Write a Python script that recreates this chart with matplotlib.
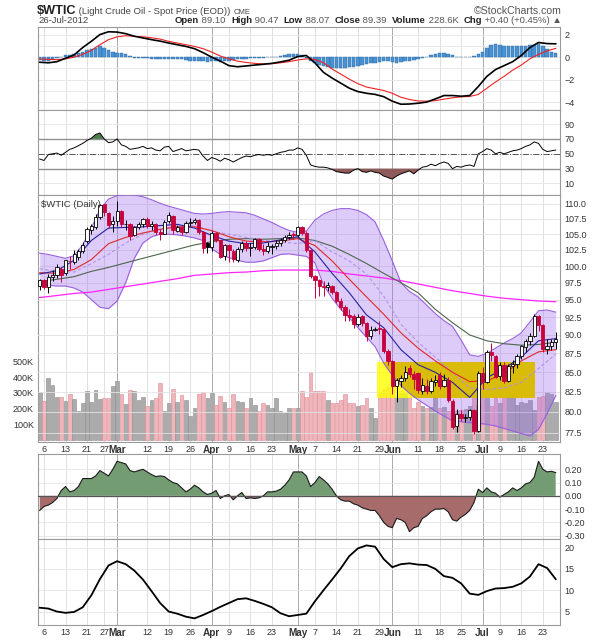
import numpy as np
import pandas as pd
import matplotlib
matplotlib.use("Agg")
import matplotlib.pyplot as plt
from matplotlib.patches import Rectangle
from matplotlib.ticker import NullLocator, FixedLocator

plt.rcParams['font.family'] = ['Liberation Sans', 'DejaVu Sans']

W_PX, H_PX = 599, 640

# trading days on the chart (NYMEX holidays left out)
dates = pd.bdate_range("2012-02-03", "2012-07-26", freq="C",
                       holidays=["2012-02-20", "2012-04-06", "2012-05-28", "2012-07-04"])

# daily candles, Feb .. Jul
opens = [97.0, 97.9, 96.9, 98.4, 98.7, 99.6, 98.9, 100.8, 100.7, 101.4, 102.4, 103.9, 105.7, 106.2, 107.8, 109.9, 108.5, 106.6,
         107.1, 108.8, 106.6, 106.7, 104.8, 106.1, 106.6, 107.4, 106.3, 106.7, 105.4, 105.1, 107.1, 108.0, 105.6, 106.2, 105.4, 106.9, 107.0, 107.3, 105.4, 103.6,
         102.9, 105.2, 104.0, 101.5, 103.3, 102.4, 101.0, 102.7, 103.6, 102.8, 102.9, 104.2, 102.7, 102.3, 103.0, 103.1, 103.6, 104.1, 104.6, 105.0,
         104.9, 106.1, 105.2, 102.5, 98.5, 97.9, 97.0, 96.8, 97.0, 96.1, 94.8, 94.0, 92.8, 92.6, 91.5, 92.6, 91.7, 89.9, 90.7, 91.0, 90.8, 87.8,
         86.5, 83.2, 83.9, 84.3, 85.5, 84.8, 84.9, 82.6, 83.3, 82.6, 83.8, 84.6, 83.3, 84.0, 81.4, 78.3, 79.8, 79.2, 79.4, 80.2, 77.7,
         84.9, 83.8, 87.7, 87.2, 84.5, 86.0, 83.9, 85.8, 86.1, 87.1, 88.4, 89.2, 89.9, 92.6, 91.4, 88.1, 88.5, 89.10]
highs = [98.0, 98.0, 98.8, 99.4, 100.3, 99.8, 101.0, 101.5, 102.5, 102.6, 103.8, 106.2, 106.7, 108.3, 109.95, 110.0, 108.7, 108.0,
         110.55, 109.0, 107.3, 106.9, 106.4, 107.0, 107.7, 107.8, 107.2, 106.9, 105.9, 107.3, 108.6, 108.1, 106.5, 106.4, 107.1, 107.7, 107.7, 107.5, 105.5, 103.8,
         105.5, 105.3, 104.1, 103.5, 103.4, 102.6, 102.9, 103.9, 103.9, 103.6, 104.4, 104.4, 103.4, 103.7, 103.5, 104.0, 104.4, 104.9, 105.3, 105.3,
         106.4, 106.3, 105.5, 102.6, 98.6, 98.0, 97.8, 97.6, 97.2, 96.3, 95.2, 94.2, 93.6, 93.0, 92.9, 92.8, 91.8, 91.2, 91.1, 91.9, 91.0, 88.1,
         86.6, 84.3, 84.7, 85.8, 86.0, 85.2, 85.0, 84.2, 84.1, 84.2, 84.6, 85.0, 84.8, 84.4, 81.6, 80.4, 80.2, 79.7, 80.4, 80.4, 85.2,
         85.7, 87.9, 88.9, 87.3, 86.3, 86.4, 86.1, 86.6, 87.4, 88.6, 89.5, 90.3, 92.9, 92.8, 91.5, 89.4, 89.4, 90.47]
lows = [96.4, 96.5, 96.0, 97.7, 98.2, 97.6, 98.6, 99.6, 100.4, 100.9, 102.0, 103.6, 105.0, 105.9, 107.5, 107.9, 106.0, 105.3,
        106.3, 106.2, 105.7, 104.0, 104.7, 105.8, 106.2, 106.0, 105.7, 104.9, 104.0, 105.0, 106.8, 105.1, 105.3, 104.8, 105.2, 106.4, 106.6, 105.1, 102.0, 102.1,
        102.4, 103.7, 101.2, 101.0, 100.7, 100.6, 100.7, 102.2, 102.4, 101.5, 102.6, 102.3, 101.7, 102.0, 101.9, 102.6, 103.2, 103.7, 104.2, 104.3,
        104.5, 104.9, 102.2, 98.2, 95.3, 95.6, 95.5, 96.3, 95.8, 94.5, 93.5, 92.0, 92.0, 91.0, 91.3, 91.3, 89.2, 89.5, 90.5, 90.2, 87.5, 85.9,
        82.2, 81.2, 83.1, 83.9, 84.4, 82.8, 82.3, 82.2, 82.2, 82.3, 83.2, 82.8, 83.1, 81.2, 77.9, 77.6, 78.9, 78.8, 79.0, 77.3, 77.6,
        82.9, 83.6, 86.5, 84.2, 84.0, 83.6, 83.7, 84.9, 85.6, 86.8, 87.7, 88.6, 89.7, 90.6, 87.7, 87.4, 87.9, 88.07]
closes = [97.84, 96.91, 98.41, 98.70, 99.84, 98.67, 100.91, 100.74, 101.80, 102.31, 103.24, 105.84, 106.28, 107.83, 109.77, 108.56, 106.55, 107.07,
          108.84, 106.70, 106.72, 104.70, 106.16, 106.58, 107.40, 106.34, 106.71, 105.43, 105.11, 107.06, 108.09, 105.61, 106.17, 105.35, 106.87, 107.03, 107.33, 105.41, 102.78, 103.02,
          105.23, 104.01, 101.47, 103.31, 102.46, 101.02, 102.70, 103.64, 102.83, 102.93, 104.20, 102.67, 102.27, 103.05, 103.11, 103.55, 104.12, 104.55, 104.93, 104.87,
          106.16, 105.22, 102.54, 98.49, 97.94, 97.01, 96.81, 97.08, 96.13, 94.78, 93.98, 92.81, 92.56, 91.48, 92.57, 91.66, 89.90, 90.66, 90.86, 90.76, 87.82, 86.53,
          83.23, 83.98, 84.29, 85.02, 84.82, 84.10, 82.70, 83.32, 82.62, 83.91, 84.03, 83.27, 84.03, 81.45, 78.20, 79.76, 79.21, 79.36, 80.21, 77.69, 84.96,
          83.75, 87.66, 87.22, 84.45, 85.99, 83.91, 85.81, 86.08, 87.10, 88.43, 89.22, 89.87, 92.66, 91.44, 88.14, 88.50, 88.97, 89.39]
volume_k = [304, 249, 394, 347, 272, 272, 249, 291, 261, 185, 234, 312, 238, 319, 259, 266, 266, 340,
            376, 291, 227, 319, 312, 255, 272, 217, 255, 266, 362, 185, 234, 323, 244, 287, 251, 153, 202, 293, 304, 268,
            300, 225, 280, 240, 200, 290, 250, 240, 205, 265, 225, 185, 235, 225, 205, 265, 185, 170, 202, 204,
            204, 308, 276, 429, 308, 308, 308, 255, 234, 234, 255, 293, 234, 234, 217, 223, 266, 204, 142, 302, 323, 336,
            336, 280, 308, 297, 272, 204, 244, 217, 204, 212, 272, 204, 212, 182, 217, 182, 191, 195, 217, 272, 223,
            308, 266, 217, 266, 234, 272, 287, 280, 223, 244, 234, 255, 191, 272, 280, 302, 293, 238]

# Bollinger bands read every 2nd session
bb_upper = [102.0, 101.8, 101.5, 101.2, 101.6, 103.3, 106.0, 109.0, 110.8, 111.4, 111.6, 111.5, 111.2, 110.7, 110.1, 109.6,
            109.2, 108.8, 108.4, 108.3, 108.4, 108.6, 108.7, 108.6, 108.5, 108.1, 107.5, 106.9, 106.2, 105.6, 105.3, 105.5,
            107.3, 108.3, 108.9, 109.2, 109.2, 108.9, 108.2, 107.0, 104.0, 100.8, 97.5, 96.2, 95.4, 94.2, 93.0, 92.0,
            91.2, 89.3, 87.3, 87.1, 87.5, 88.2, 88.9, 89.5, 90.3, 91.8, 93.4, 93.5, 93.2]
bb_lower = [97.2, 97.1, 97.0, 97.0, 96.7, 96.1, 95.0, 93.9, 93.7, 94.8, 97.5, 101.2, 103.6, 104.6, 105.0, 105.0,
            104.9, 104.7, 104.4, 104.0, 102.7, 101.8, 101.3, 100.9, 100.6, 100.6, 100.8, 101.3, 101.8, 101.9, 101.7, 101.5,
            100.5, 97.2, 95.2, 93.6, 92.4, 91.0, 89.7, 88.4, 86.2, 84.6, 83.3, 82.3, 81.5, 80.8, 80.1, 79.5,
            78.9, 78.8, 78.7, 78.6, 78.5, 78.3, 78.0, 77.7, 77.4, 77.1, 77.9, 79.8, 82.0]
# moving averages read every 4th session
bb_mid = [99.6, 99.2, 99.1, 100.4, 101.8, 103.6, 105.0, 105.8, 106.3, 106.4, 105.5, 105.0, 104.5, 104.0, 103.8, 103.5,
          104.0, 102.2, 100.8, 98.8, 95.5, 91.5, 89.0, 87.0, 85.0, 83.0, 82.8, 83.0, 83.7, 85.5, 87.4]
ma_fast = [98.8, 99.3, 100.9, 104.0, 106.0, 106.1, 106.2, 106.4, 106.6, 106.0, 104.8, 103.9, 103.5, 103.6, 104.1, 104.6,
           102.2, 98.9, 96.0, 92.8, 91.0, 88.0, 86.0, 85.0, 83.7, 81.8, 84.3, 85.5, 87.0, 89.2, 89.5]
ma_mid = [99.0, 98.9, 99.5, 101.0, 103.5, 104.5, 105.2, 105.8, 106.2, 106.2, 105.6, 104.6, 103.9, 103.8, 103.9, 104.3,
          103.2, 100.8, 98.0, 95.4, 92.9, 90.3, 88.2, 86.5, 85.0, 83.8, 83.9, 84.8, 86.5, 87.7, 88.0]
ma_50 = [97.7, 98.0, 98.4, 99.2, 99.8, 100.5, 101.2, 101.9, 102.6, 103.3, 103.8, 104.2, 104.3, 104.2, 104.3, 104.4,
         104.0, 103.1, 101.8, 100.4, 98.9, 97.5, 96.0, 93.6, 91.7, 90.0, 89.2, 88.8, 88.6, 88.7, 89.0]
ma_200 = [95.3, 95.6, 95.9, 96.1, 96.5, 96.9, 97.3, 97.7, 98.1, 98.6, 98.8, 99.0, 99.1, 99.3, 99.4, 99.4,
          99.4, 99.2, 98.8, 98.5, 98.2, 97.8, 97.3, 96.8, 96.3, 95.9, 95.5, 95.2, 95.0, 94.8, 94.7]

# MACD lines read every 2nd session, histogram daily
macd = [-0.45, -0.5, -0.4, -0.1, 0.2, 0.85, 1.4, 2.0, 2.25, 2.22, 2.08, 1.85, 1.7, 1.55, 1.42, 1.25, 1.1, 0.95, 0.75, 0.4,
        0.0, -0.35, -0.75, -0.85, -0.78, -0.7, -0.63, -0.55, -0.42, -0.27, 0.05, 0.15, -0.5, -1.35, -1.85, -2.3, -2.75, -3.05, -3.2, -3.3,
        -3.5, -3.9, -4.17, -4.15, -4.08, -3.98, -3.7, -3.4, -3.4, -3.46, -3.4, -2.6, -1.7, -1.1, -0.75, -0.4, 0.15, 0.85, 1.3, 1.2, 1.18]
macd_signal = [-0.15, -0.2, -0.22, -0.15, 0.0, 0.25, 0.6, 1.1, 1.55, 1.8, 1.9, 1.85, 1.8, 1.72, 1.6, 1.4, 1.25, 1.1, 0.95, 0.75,
               0.45, 0.1, -0.15, -0.35, -0.47, -0.55, -0.6, -0.58, -0.5, -0.4, -0.25, -0.15, -0.2, -0.5, -1.05, -1.5, -1.95, -2.35, -2.65, -2.8,
               -2.95, -3.2, -3.55, -3.75, -3.88, -3.9, -3.85, -3.72, -3.6, -3.52, -3.48, -3.3, -2.75, -2.2, -1.7, -1.15, -0.7, -0.15, 0.25, 0.55, 0.78]
macd_hist = [-0.25, -0.3, -0.3, -0.2, -0.1, 0.05, 0.15, 0.2, 0.25, 0.35,
             0.45, 0.6, 0.75, 0.85, 0.95, 0.85, 0.65, 0.5, 0.4, 0.35,
             0.25, 0.1, -0.05, -0.1, -0.1, -0.1, -0.15, -0.15, -0.2, -0.15,
             -0.2, -0.2, -0.15, -0.2, -0.25, -0.3, -0.3, -0.35, -0.35, -0.4,
             -0.35, -0.35, -0.4, -0.35, -0.3, -0.25, -0.2, -0.15, -0.15, -0.1,
             -0.1, -0.05, -0.05, 0.0, 0.05, 0.05, 0.1, 0.2, 0.25, 0.3,
             0.3, 0.2, -0.1, -0.35, -0.55, -0.7, -0.8, -0.85, -0.95, -1.0,
             -1.0, -0.95, -0.9, -0.85, -0.8, -0.7, -0.65, -0.55, -0.5, -0.4,
             -0.3, -0.3, -0.45, -0.5, -0.45, -0.35, -0.3, -0.25, -0.15, -0.05,
             0.05, 0.15, 0.3, 0.35, 0.35, 0.3, 0.2, 0.05, 0.0, 0.0,
             0.05, 0.1, 0.25, 0.5, 0.8, 1.05, 1.15, 1.1, 1.0, 1.0,
             0.95, 0.95, 1.0, 1.0, 1.05, 1.1, 1.15, 1.0, 0.7, 0.5, 0.35]

rsi = [43, 41, 49, 50, 51, 48, 52, 56, 58, 61, 64, 68, 71, 76, 78, 70, 65, 66,
       70, 62, 60, 56, 57, 58, 60, 57, 58, 55, 54, 59, 60, 53, 55, 57, 54, 55, 56, 55, 47, 41,
       45, 43, 40, 44, 42, 39, 42, 45, 47, 46, 48, 49, 48, 49, 48, 50, 52, 53, 55, 55,
       58, 56, 48, 35, 33, 32, 32, 31, 29, 26, 25, 24, 24, 28, 30, 26, 25, 27, 25, 24, 20, 18,
       16, 20, 23, 25, 27, 23, 28, 32, 33, 36, 34, 37, 39, 37, 30, 33, 32, 34, 35, 33, 50,
       53, 57, 55, 50, 52, 50, 52, 54, 55, 57, 60, 62, 66, 64, 56, 53, 54, 55]

cmf = [-0.11, -0.08, -0.07, -0.05, -0.02, 0.04, 0.07, 0.03, 0.04, 0.07, 0.13, 0.13, 0.13, 0.15, 0.19, 0.17, 0.15, 0.2,
       0.26, 0.25, 0.24, 0.19, 0.18, 0.19, 0.2, 0.18, 0.16, 0.145, 0.15, 0.145, 0.12, 0.1, 0.09, 0.06, 0.03, 0.05, 0.08, 0.06, 0.03, 0.01,
       0.02, 0.04, -0.02, 0.0, 0.01, -0.03, 0.0, 0.025, -0.02, -0.015, -0.02, -0.015, 0.0, 0.03, 0.03, 0.035, 0.05, 0.08, 0.12, 0.18,
       0.18, 0.18, 0.15, 0.07, 0.1, 0.145, 0.12, 0.09, 0.05, 0.0, -0.03, -0.04, -0.04, -0.06, -0.07, -0.09, -0.1, -0.11, -0.11, -0.15, -0.2, -0.23,
       -0.24, -0.17, -0.18, -0.2, -0.27, -0.24, -0.23, -0.17, -0.15, -0.12, -0.1, -0.1, -0.095, -0.12, -0.18, -0.19, -0.16, -0.14, -0.11, -0.05, 0.05,
       0.025, 0.06, 0.03, 0.02, -0.01, 0.01, 0.03, 0.06, 0.04, 0.06, 0.09, 0.1, 0.14, 0.26, 0.2, 0.18, 0.185, 0.175]

# bottom line indicator, every 2nd session
adx = [5.9, 5.7, 5.0, 4.7, 4.9, 6.0, 8.8, 12.6, 15.8, 16.8, 16.1, 14.6, 12.5, 9.8, 7.0, 5.0, 4.5, 3.8, 3.4, 4.2,
       5.1, 6.1, 7.0, 7.9, 8.1, 7.5, 6.8, 6.0, 4.6, 3.9, 4.2, 4.5, 7.4, 10.0, 12.5, 15.1, 18.0, 19.8, 20.5, 20.2,
       17.3, 15.4, 16.1, 16.3, 16.0, 15.9, 15.0, 13.3, 12.9, 11.6, 9.2, 8.9, 9.8, 10.4, 10.5, 10.8, 11.6, 13.2, 16.1, 15.2, 12.6]

tick_dates = ["2012-02-06", "2012-02-13", "2012-02-21", "2012-02-27", "2012-03-01", "2012-03-12", "2012-03-19",
              "2012-03-26", "2012-04-02", "2012-04-09", "2012-04-16", "2012-04-23", "2012-05-01", "2012-05-07",
              "2012-05-14", "2012-05-21", "2012-05-29", "2012-06-01", "2012-06-11", "2012-06-18", "2012-06-25",
              "2012-07-02", "2012-07-09", "2012-07-16", "2012-07-23"]
tick_labels = ["6", "13", "21", "27", "Mar", "12", "19", "26", "Apr", "9", "16", "23", "May", "7",
               "14", "21", "29", "Jun", "11", "18", "25", "Jul", "9", "16", "23"]
months = ["Mar", "Apr", "May", "Jun", "Jul"]

# yellow highlight box (session position, price)
box_x = (78.4, 115.2)
box_y = (81.75, 86.4)

x = np.arange(len(dates))
x2 = x[::2]
x4 = x[::4]
o = np.array(opens); h = np.array(highs); l = np.array(lows); c = np.array(closes)
tick_pos = [dates.get_loc(pd.Timestamp(d)) for d in tick_dates]

fig = plt.figure(figsize=(W_PX / 100, H_PX / 100), dpi=100)
fig.patch.set_facecolor("white")
L, W = 38 / W_PX, 522 / W_PX


def panel(top, bottom):
    return fig.add_axes([L, 1 - bottom / H_PX, W, (bottom - top) / H_PX])


def style(ax):
    for s in ax.spines.values():
        s.set_color("#9a9a9a")
        s.set_linewidth(0.8)
    ax.set_xlim(-0.4, 121.0)
    ax.tick_params(length=0, labelsize=6.5, colors="#333333", pad=3)
    for p, lab in zip(tick_pos, tick_labels):
        col = "#aaaaaa" if lab in months else "#e0e0e0"
        ax.axvline(p, color=col, lw=0.7, zorder=0)


def xlabels(ax):
    ax.set_xticks(tick_pos)
    ax.set_xticklabels(tick_labels)
    ax.tick_params(axis="x", pad=2)
    for t in ax.get_xticklabels():
        if t.get_text() in months:
            t.set_fontweight("bold")
            t.set_fontsize(7.2)


# ---- MACD ----
ax1 = panel(27, 110)
style(ax1)
ax1.set_ylim(-4.68, 2.67)
for v in range(-4, 3):
    ax1.axhline(v, color="#e4e4e4", lw=0.6, zorder=0)
ax1.bar(x, macd_hist, width=0.8, color="#4a93d2", edgecolor="#2b67a3", lw=0.3, zorder=2)
ax1.plot(x2, macd_signal, color="#ee2222", lw=0.8, zorder=3)
ax1.plot(x2, macd, color="black", lw=1.2, zorder=4)
ax1.yaxis.tick_right()
ax1.set_yticks([2, 0, -2, -4])
ax1.set_xticks([])

# ---- RSI ----
ax2 = panel(110, 195)
style(ax2)
ax2.set_ylim(-5.5, 109)
r = np.array(rsi, dtype=float)
for v in (90, 10):
    ax2.axhline(v, color="#e4e4e4", lw=0.6, zorder=0)
ax2.axhline(70, color="#909090", lw=1.0, zorder=1)
ax2.axhline(30, color="#909090", lw=1.0, zorder=1)
ax2.axhline(50, color="#555555", lw=0.7, ls="-.", zorder=1)
ax2.fill_between(x, r, 70, where=r >= 70, interpolate=True, color="#4f7c4f", lw=0, zorder=2)
ax2.fill_between(x, r, 30, where=r <= 30, interpolate=True, color="#8e5a5a", lw=0, zorder=2)
ax2.plot(x, r, color="black", lw=0.7, zorder=3)
ax2.yaxis.tick_right()
ax2.set_yticks([90, 70, 50, 30, 10])
ax2.set_xticks([])

# ---- price + volume ----
axv = panel(195, 442)
style(axv)
axv.set_ylim(-13.4, 1558)
up = np.r_[True, c[1:] >= c[:-1]]
vcol = np.where(up, "#ababab", "#f0b4bb")
vedge = np.where(up, "#8c8c8c", "#dc8c98")
axv.bar(x, volume_k, width=0.86, color=vcol, edgecolor=vedge, lw=0.4, zorder=1)
axv.set_yticks([100, 200, 300, 400, 500])
axv.set_yticklabels(["100K", "200K", "300K", "400K", "500K"])
axv.yaxis.tick_left()
xlabels(axv)

axp = axv.twinx()
axp.set_yscale("log")
axp.set_ylim(76.4, 111.5)
price_ticks = [77.5 + 2.5 * k for k in range(14)]
axp.yaxis.set_major_locator(FixedLocator(price_ticks))
axp.yaxis.set_minor_locator(NullLocator())
axp.set_yticklabels([f"{v:.1f}" for v in price_ticks])
axp.tick_params(axis="y", which="both", length=0, labelsize=6.5, colors="#333333", pad=3)
for s in axp.spines.values():
    s.set_visible(False)
for v in price_ticks:
    axp.axhline(v, color="#e2e2e2", lw=0.6, zorder=0)

axp.add_patch(Rectangle((box_x[0], box_y[0]), box_x[1] - box_x[0], box_y[1] - box_y[0],
                        facecolor="#ffff00", alpha=0.8, lw=0, zorder=1))
band = axp.fill_between(x2, bb_lower, bb_upper, color="#9966ee", alpha=0.33, lw=0, zorder=2)
gold = Rectangle((box_x[0], box_y[0]), box_x[1] - box_x[0], box_y[1] - box_y[0],
                 facecolor="#d9bb00", alpha=0.92, lw=0, zorder=2.5)
axp.add_patch(gold)
gold.set_clip_path(band.get_paths()[0], axp.transData)
axp.plot(x2, bb_upper, color="#9a5fe0", lw=0.8, zorder=3)
axp.plot(x2, bb_lower, color="#9a5fe0", lw=0.8, zorder=3)
axp.plot(x4, ma_200, color="#ff22ff", lw=0.9, zorder=3)
axp.plot(x4, ma_50, color="#4d664d", lw=0.8, zorder=3)
axp.plot(x4, bb_mid, color="#b492e6", lw=0.8, ls=(0, (3, 2)), zorder=3)
axp.plot(x4, ma_mid, color="#e02828", lw=0.8, zorder=3)
axp.plot(x4, ma_fast, color="#2424a0", lw=0.8, zorder=3)

# candles
for i in range(len(x)):
    down_day = i > 0 and c[i] < c[i - 1]
    col = "#c8003c" if down_day else "black"
    axp.vlines(x[i], l[i], h[i], color=col, lw=0.7, zorder=4)
    lo_b, hi_b = min(o[i], c[i]), max(o[i], c[i])
    if hi_b - lo_b < 0.08:
        hi_b = lo_b + 0.08
    face = col if c[i] < o[i] else "white"
    axp.bar(x[i], hi_b - lo_b, bottom=lo_b, width=0.75, facecolor=face, edgecolor=col, lw=0.6, zorder=5)

axp.text(0.4, 110.6, "$WTIC (Daily)", fontsize=6.8, color="#333333", va="top", ha="left", zorder=6)

# ---- money flow oscillator ----
ax4 = panel(454, 539)
style(ax4)
ax4.set_ylim(-0.325, 0.315)
m = np.array(cmf)
for v in (0.2, 0.1, -0.1, -0.2, -0.3):
    ax4.axhline(v, color="#e4e4e4", lw=0.6, zorder=0)
ax4.fill_between(x, m, 0, where=m >= 0, interpolate=True, color="#739c73", lw=0, zorder=2)
ax4.fill_between(x, m, 0, where=m <= 0, interpolate=True, color="#a86b6b", lw=0, zorder=2)
ax4.plot(x, m, color="#1a1a1a", lw=0.8, zorder=3)
ax4.axhline(0, color="#555555", lw=0.9, zorder=3)
ax4.yaxis.tick_right()
ax4.set_yticks([0.2, 0.1, 0.0, -0.1, -0.2, -0.3])
ax4.set_yticklabels(["0.20", "0.10", "0.00", "-0.10", "-0.20", "-0.30"])
ax4.set_xticks([])

# ---- trend strength line ----
ax5 = panel(539, 625)
style(ax5)
ax5.set_ylim(1.85, 22)
for v in (20, 15, 10, 5):
    ax5.axhline(v, color="#e4e4e4", lw=0.6, zorder=0)
ax5.plot(x2, adx, color="black", lw=1.3, zorder=3)
ax5.yaxis.tick_right()
ax5.set_yticks([20, 15, 10, 5])
xlabels(ax5)

# ---- header ----
renderer = fig.canvas.get_renderer()


def ftext(xp, yp, s, **kw):
    return fig.text(xp / W_PX, 1 - yp / H_PX, s, va="baseline", **kw)


def row(x0, yp, pieces, align="left"):
    objs, total = [], 0.0
    for s, size, bold, col in pieces:
        t = ftext(0, yp, s, fontsize=size, color=col, fontweight="bold" if bold else "normal")
        wpx = t.get_window_extent(renderer=renderer).width
        objs.append((t, wpx))
        total += wpx
    xcur = x0 - total if align == "right" else x0
    for t, wpx in objs:
        t.set_x(xcur / W_PX)
        xcur += wpx


row(37, 14, [("$WTIC", 9.2, True, "#222222"), (" (Light Crude Oil - Spot Price (EOD)) ", 6.8, False, "#444444"),
             ("CME", 5.6, False, "#444444")])
ftext(562, 14, "\u00a9StockCharts.com", fontsize=7.6, color="#555555", ha="right")
ftext(38, 23, "26-Jul-2012", fontsize=6.8, color="#444444")

dk, lt = "#222222", "#555555"
row(562, 23, [("Open", 6.8, True, dk), (" 89.10  ", 6.8, False, lt), ("High", 6.8, True, dk), (" 90.47  ", 6.8, False, lt),
              ("Low", 6.8, True, dk), (" 88.07  ", 6.8, False, lt), ("Close", 6.8, True, dk), (" 89.39  ", 6.8, False, lt),
              ("Volume", 6.8, True, dk), (" 228.6K  ", 6.8, False, lt), ("Chg", 6.8, True, dk),
              (" +0.40 (+0.45%) \u25b2", 6.8, False, lt)], align="right")

fig.savefig("out.png", dpi=100, facecolor="white")
